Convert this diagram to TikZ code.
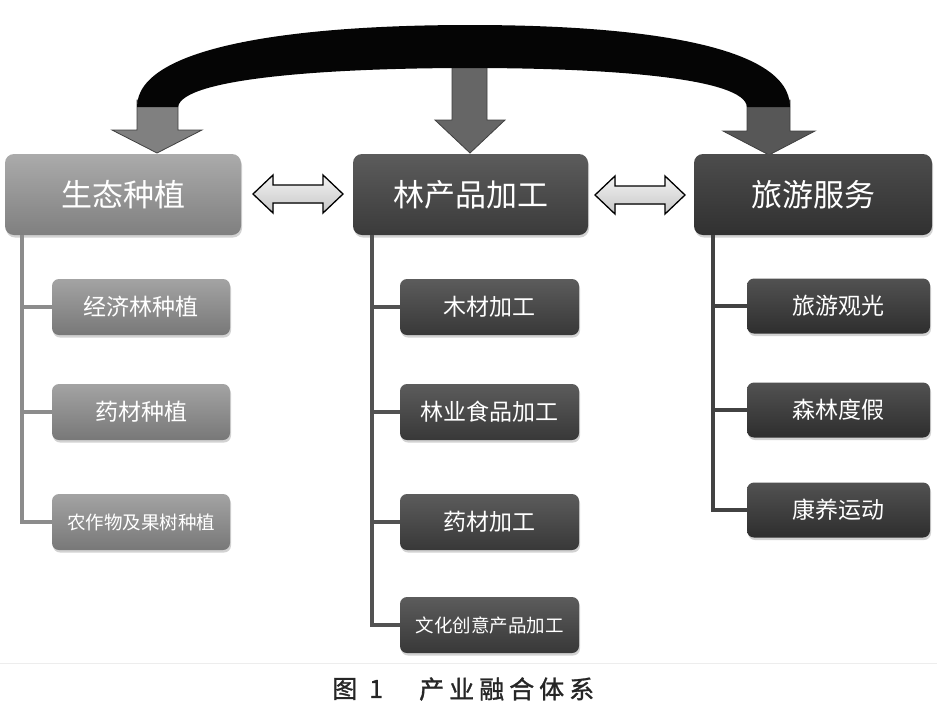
\documentclass[tikz,border=0pt]{standalone}
\usepackage{fontspec}
\setmainfont{Noto Sans CJK SC}
\newfontfamily\capfont[FakeBold=1.2]{Noto Sans CJK SC}
\usetikzlibrary{shadows}
\definecolor{bandblack}{HTML}{050505}
\tikzset{
  boxbase/.style={rounded corners=9pt, inner sep=0pt, text=white, align=center,
    drop shadow={opacity=0.35, shadow xshift=1pt, shadow yshift=-2.5pt}},
  mainlight/.style={boxbase, minimum height=81pt, top color=black!33, bottom color=black!50, font=\fontsize{31}{33}\selectfont},
  maindark/.style={boxbase, minimum height=81pt, top color=black!64, bottom color=black!77, font=\fontsize{31}{33}\selectfont},
  maindarker/.style={boxbase, minimum height=81pt, top color=black!70, bottom color=black!81, font=\fontsize{31}{33}\selectfont},
  sublight/.style={boxbase, rounded corners=7pt, minimum width=178pt, minimum height=56pt, top color=black!36, bottom color=black!53, font=\fontsize{23}{25}\selectfont},
  subdark/.style={boxbase, rounded corners=7pt, minimum width=179pt, minimum height=56pt, top color=black!64, bottom color=black!78, font=\fontsize{23}{25}\selectfont},
  subdarker/.style={boxbase, rounded corners=7pt, minimum width=183pt, minimum height=55pt, top color=black!68, bottom color=black!82, font=\fontsize{23}{25}\selectfont},
  smalltxt/.style={font=\fontsize{18.5}{20}\selectfont},
  trunk/.style={line width=4pt},
  downarrow/.style={draw=black!75, line width=0.8pt, line join=miter},
  dblarrow/.style={draw=black, line width=1.3pt, top color=white!95!black, bottom color=black!22, line join=miter},
  captxt/.style={anchor=west, inner sep=0pt, font=\capfont\fontsize{25}{27}\selectfont, text=black!85},
}
\begin{document}
\begin{tikzpicture}[x=1pt,y=-1pt]
\useasboundingbox[fill=white] (0,0) rectangle (937,705);

% down arrows (under the band)
\filldraw[downarrow, fill=black!50] (137,100) -- (178,100) -- (178,130) -- (202,130) -- (157,153) -- (112,130) -- (137,130) -- cycle;
\filldraw[downarrow, fill=black!60] (452,60) -- (487,60) -- (487,120) -- (505,120) -- (470,153) -- (435,120) -- (452,120) -- cycle;
\filldraw[downarrow, fill=black!66] (747,100) -- (790,100) -- (790,131) -- (815,131) -- (769,155) -- (723,131) -- (747,131) -- cycle;

% black band
\fill[bandblack] (137,107) .. controls (137,45) and (300,25) .. (470,25)
  .. controls (640,25) and (790,45) .. (790,107)
  -- (747,107) .. controls (745,78) and (610,68) .. (470,68)
  .. controls (330,68) and (182,78) .. (178,107) -- cycle;

% main boxes
\node[mainlight, minimum width=236pt] (m1) at (123,194.5) {生态种植};
\node[maindark, minimum width=235pt] (m2) at (470.5,194.5) {林产品加工};
\node[maindarker, minimum width=238pt] (m3) at (813,194.5) {旅游服务};

% double arrows
\filldraw[dblarrow] (253,194) -- (273,175) -- (273,185) -- (323,185) -- (323,175) -- (343,194) -- (323,213) -- (323,203) -- (273,203) -- (273,213) -- cycle;
\filldraw[dblarrow] (595,195) -- (615,176) -- (615,186) -- (665,186) -- (665,176) -- (685,195) -- (665,214) -- (665,204) -- (615,204) -- (615,214) -- cycle;

% sub boxes
\node[sublight] (a1) at (141,307) {经济林种植};
\node[sublight] (a2) at (141,412) {药材种植};
\node[sublight, smalltxt] (a3) at (141,522) {农作物及果树种植};

\node[subdark] (b1) at (489.5,307) {木材加工};
\node[subdark] (b2) at (489.5,412) {林业食品加工};
\node[subdark] (b3) at (489.5,522) {药材加工};
\node[subdark, smalltxt] (b4) at (489.5,625) {文化创意产品加工};

\node[subdarker] (c1) at (838.5,306) {旅游观光};
\node[subdarker] (c2) at (838.5,410) {森林度假};
\node[subdarker] (c3) at (838.5,510) {康养运动};

% trunks
\coordinate (ta) at (22,235);
\coordinate (tb) at (372,235);
\coordinate (tc) at (713,235);
\draw[trunk, draw=black!45] (ta) |- (a3.west);
\draw[trunk, draw=black!45] (ta |- a1.west) -- (a1.west);
\draw[trunk, draw=black!45] (ta |- a2.west) -- (a2.west);
\draw[trunk, draw=black!68] (tb) |- (b4.west);
\draw[trunk, draw=black!68] (tb |- b1.west) -- (b1.west);
\draw[trunk, draw=black!68] (tb |- b2.west) -- (b2.west);
\draw[trunk, draw=black!68] (tb |- b3.west) -- (b3.west);
\draw[trunk, draw=black!74] (tc) |- (c3.west);
\draw[trunk, draw=black!74] (tc |- c1.west) -- (c1.west);
\draw[trunk, draw=black!74] (tc |- c2.west) -- (c2.west);

% faint separator
\draw[black!7, line width=1pt] (0,663) -- (937,663);

% caption
\node[captxt] (cap1) at (332,689) {图\hspace{12pt}1};
\node[captxt] (cap2) at (419,689) {产\hspace{5pt}业\hspace{5pt}融\hspace{5pt}合\hspace{5pt}体\hspace{5pt}系};
\end{tikzpicture}
\end{document}
